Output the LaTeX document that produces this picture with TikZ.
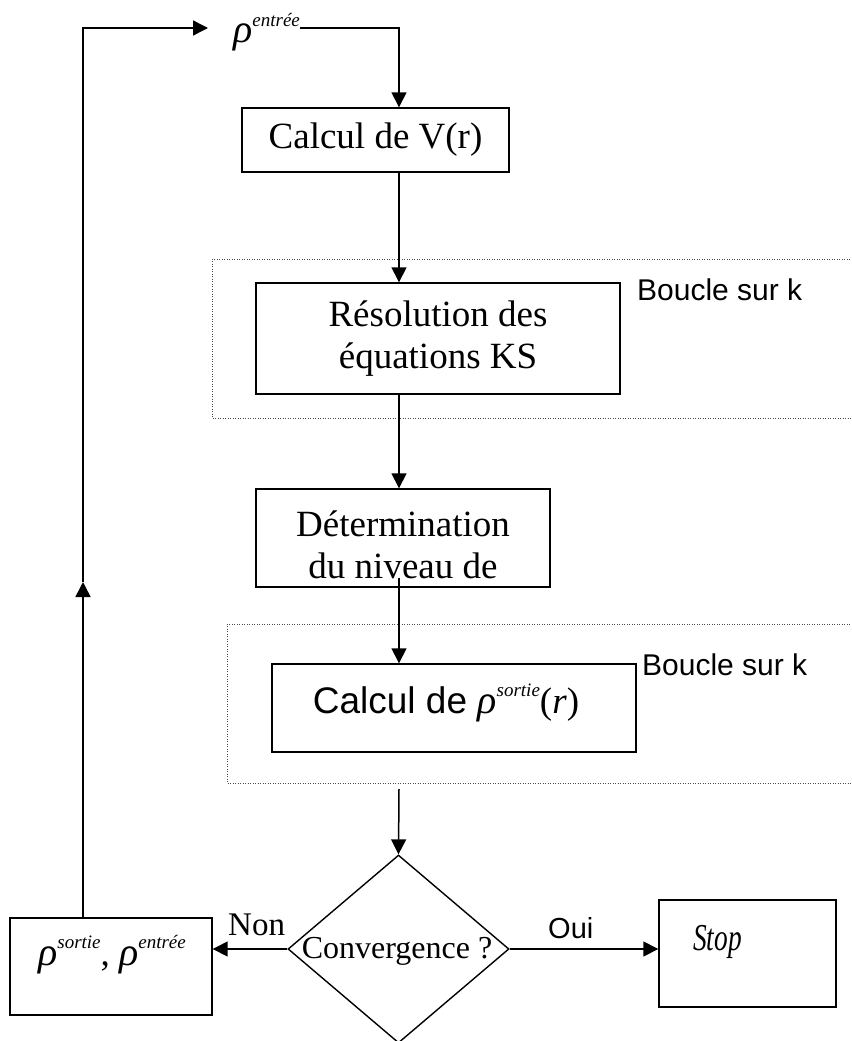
\documentclass[tikz,border=0pt]{standalone}
\usepackage{fontspec}
\setmainfont{Liberation Serif}
\newfontfamily\sansfont{Liberation Sans}
\newfontfamily\etroit[FakeStretch=0.72]{Liberation Serif}
\usetikzlibrary{arrows.meta, positioning, calc, shapes.geometric}
\newcommand{\rhoexp}[1]{{\fontsize{40}{40}\selectfont\itshape ρ}\raisebox{17pt}{\fontsize{19}{19}\selectfont\itshape #1}}

\begin{document}
\begin{tikzpicture}[x=1pt, y=-1pt, font=\fontsize{37}{42}\selectfont,
    boite/.style={draw, line width=1.4pt, inner sep=0pt, align=center},
    texte/.style={inner sep=0pt},
    fleche/.style={line width=1.5pt, -{Triangle[length=15pt, width=15pt]}},
    cadre/.style={line width=1pt, black!70, dash pattern=on 1pt off 1.5pt}]
    \useasboundingbox (0,0) rectangle (851,1041);

    % axe vertical commun des fleches
    \coordinate (axe) at (399,0);
    \coordinate (haut) at (83,28);
    \coordinate (montee) at (83,582);
    \coordinate (reprise) at (399,789);

    % boites
    \node[boite, minimum width=267pt, minimum height=64pt] (calcv) at (375.5,140) {Calcul de V(r)};
    \node[boite, minimum width=364pt, minimum height=111pt] (resol) at (438,338.5) {Résolution des\\équations KS};
    \node[boite, minimum width=294pt, minimum height=98pt] (determ) at (403,538) {};
    \node[texte, align=center, below=22pt of determ.north] (determtxt) {Détermination\\du niveau de};
    \node[boite, minimum width=364pt, minimum height=88pt] (calcrho) at (454,708) {};
    \node[texte, anchor=base] (calcrhotxt) at (446,713) {{\sansfont Calcul de }\rhoexp{sortie}(\textit{r})};
    \node[boite, diamond, minimum width=221pt, minimum height=188pt] (conv) at (398.5,949) {};
    \node[texte, anchor=base, font=\fontsize{32}{32}\selectfont] (convtxt) at (397,958) {Convergence ?};
    \node[boite, minimum width=202pt, minimum height=97pt] (rhoout) at (111,966.5) {};
    \node[texte, anchor=base] (rhoouttxt) at (112,965) {\rhoexp{sortie}, \rhoexp{entrée}};
    \node[boite, minimum width=177pt, minimum height=107pt] (arret) at (747.5,953.5) {};
    \node[texte, anchor=base west, font=\fontsize{38}{38}\selectfont\etroit\itshape] (arrettxt) at (693,950) {Stop};
    \node[texte, anchor=base west] (rhoin) at (233,43) {\rhoexp{entrée}};

    % cadres des boucles sur k
    \foreach \n/\yh/\yb/\xg/\xl/\yl in {1/259/418/212/637/300, 2/624/783/227/642/675}
    {
        \draw[cadre] (860,\yh) -- (\xg,\yh) -- (\xg,\yb) -- (860,\yb);
        \node[texte, anchor=base west, font=\fontsize{30}{30}\sansfont] (boucle\n) at (\xl,\yl) {Boucle sur k};
    }

    % etiquettes
    \node[texte, anchor=base west, font=\fontsize{33}{33}\selectfont] (non) at (228,935) {Non};
    \node[texte, anchor=base west, font=\fontsize{29}{29}\sansfont] (oui) at (548,938) {Oui};

    % fleches
    \draw[fleche] (rhoin.east |- haut) -| (calcv.north -| axe);
    \draw[fleche] (calcv.south -| axe) -- (resol.north -| axe);
    \draw[fleche] (resol.south -| axe) -- (determ.north -| axe);
    \draw[fleche] ([yshift=10pt]determ.south -| axe) -- (calcrho.north -| axe);
    \draw[fleche] (reprise) -- (conv.north);
    \draw[fleche] (conv.west) -- (conv.west -| rhoout.east);
    \draw[fleche] (conv.east) -- (conv.east -| arret.west);
    \draw[fleche] (rhoout.north -| haut) -- (montee);
    \draw[fleche] (montee) |- ([xshift=-25pt]rhoin.west |- haut);
\end{tikzpicture}
\end{document}
